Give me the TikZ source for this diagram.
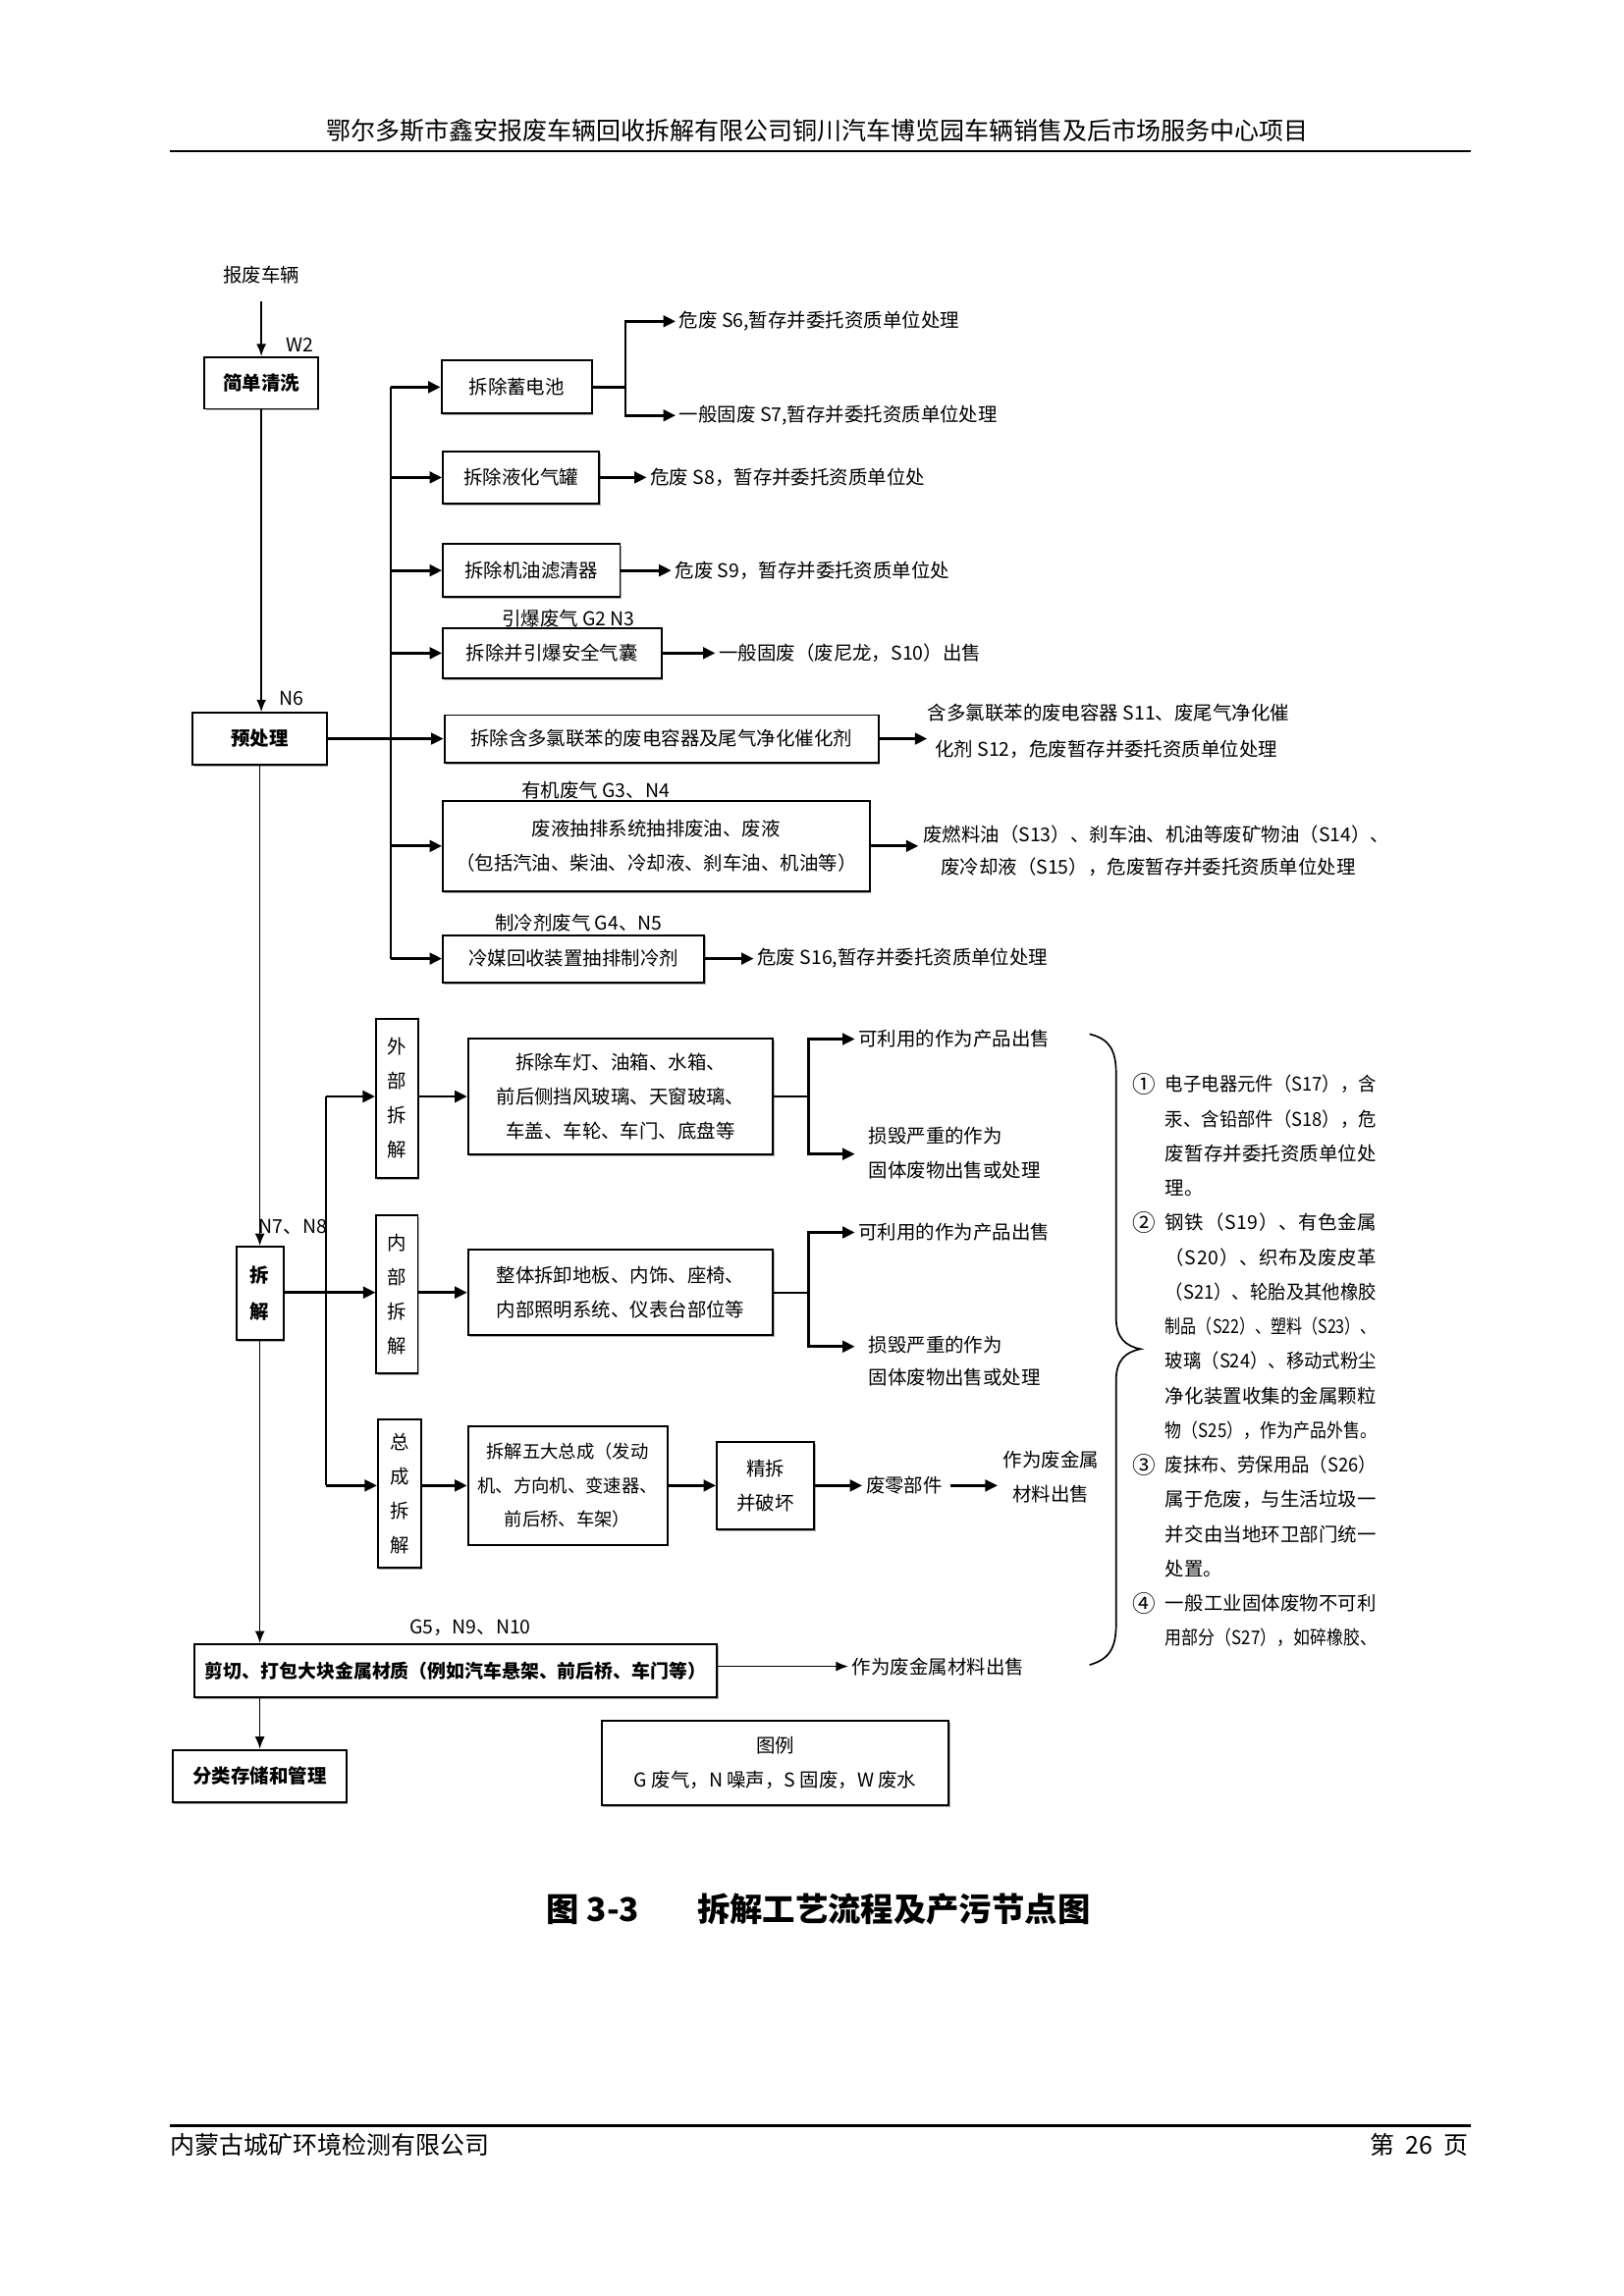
\documentclass[tikz,border=0pt]{standalone}
\usepackage{fontspec}
\setmainfont{Noto Sans CJK SC}
\usepackage{graphicx}
\usetikzlibrary{arrows.meta,shadows}
\newsavebox\jbox
\newlength\jw
\newlength\jtmp
\setlength\jw{77.4pt}
\def\spreadit#1{\ifx\relax#1\else#1\hfil\expandafter\spreadit\fi}
\newcommand\jline[1]{\sbox\jbox{#1}\setlength\jtmp{\wd\jbox}%
  \ifdim\jtmp>\jw\pgfmathsetmacro\jr{\jw/\jtmp}\scalebox{\jr}[1]{\usebox\jbox}%
  \else\hbox to\jw{\spreadit#1\relax\unskip}\fi}
\newcommand\fs{\fontsize{7pt}{12.6pt}\selectfont}
\newcommand\fsb{\fontsize{7pt}{12.6pt}\selectfont\bfseries}
\tikzset{
  bx/.style={draw, fill=white, line width=0.7pt, inner sep=0pt, align=center, font=\fs,
    drop shadow={shadow xshift=0.5pt, shadow yshift=-0.7pt, fill=black!45, opacity=0.7}},
  bbx/.style={bx, font=\fsb},
  wh/.style 2 args={minimum width=#1*0.5412pt, minimum height=#2*0.5412pt},
  lab/.style={inner sep=0pt, align=center, font=\fs},
  olab/.style={lab, anchor=west, inner xsep=1.2pt},
  llab/.style={lab, anchor=west},
  tarr/.style={line width=1pt, -{Triangle[length=4.5pt,width=4.2pt]}},
  arr/.style={line width=0.6pt, -{Latex[length=4.5pt,width=3.6pt]}},
  ln/.style={line width=0.8pt},
  rb/.style={inner sep=0pt, anchor=west, font=\fs},
  cn/.style={inner sep=0pt, font=\fontsize{8.5pt}{9pt}\selectfont},
}
\begin{document}
\begin{tikzpicture}[x=0.5412pt, y=-0.5412pt]
\useasboundingbox (0,0) rectangle (1100,1555.6);
\fill[white] (0,0) rectangle (1100,1555.6);

% header / footer
\node[inner sep=0pt, font=\fontsize{9pt}{10pt}\selectfont] (hd) at (553.5,88.6) {鄂尔多斯市鑫安报废车辆回收拆解有限公司铜川汽车博览园车辆销售及后市场服务中心项目};
\draw[line width=1pt] (115,102.4) -- (996,102.4);
\draw[line width=1pt] (115,1440) -- (996,1440);
\node[inner sep=0pt, anchor=west, font=\fontsize{9pt}{10pt}\selectfont] (ft1) at (114.8,1453) {内蒙古城矿环境检测有限公司};
\node[inner sep=0pt, anchor=east, font=\fontsize{9pt}{10pt}\selectfont] (ft2) at (995,1453) {第\ \ 26\ \ 页};
\node[inner sep=0pt, anchor=west, font=\fontsize{12pt}{14pt}\selectfont\bfseries] (cap1) at (370,1293.6) {图 3-3};
\node[inner sep=0pt, anchor=west, font=\fontsize{12pt}{14pt}\selectfont\bfseries] (cap2) at (472,1293.6) {拆解工艺流程及产污节点图};

% ---------- top part ----------
\node[lab] (src) at (177,186) {报废车辆};
\node[bbx, wh={77}{35}] (b1) at (177,259.5) {简单清洗};
\node[lab] (w2) at (203,234) {W2};
\draw[arr] ([yshift=-6.5pt]src.south) -- (b1.north);
\node[bbx, wh={91}{35}] (b2) at (176,500.5) {预处理};
\node[lab] (n6) at (197.5,473) {N6};
\draw[arr] (b1.south) -- (b1.south |- b2.north);

\node[bx, wh={102}{36}] (r1) at (350,262.3) {拆除蓄电池};
\node[bx, wh={106}{35}] (r2) at (353,323.5) {拆除液化气罐};
\node[bx, wh={120}{36}] (r3) at (360,386.5) {拆除机油滤清器};
\node[bx, wh={148}{34}] (r4) at (374,442.5) {拆除并引爆安全气囊};
\node[bx, wh={294}{32}] (r5) at (448,500.5) {拆除含多氯联苯的废电容器及尾气净化催化剂};
\node[bx, wh={289}{61}] (r6) at (444.5,573.2) {废液抽排系统抽排废油、废液\\（包括汽油、柴油、冷却液、刹车油、机油等）};
\node[bx, wh={177}{32}] (r7) at (388.5,649.5) {冷媒回收装置抽排制冷剂};

\node[lab] (g2) at (385,419) {引爆废气 G2 N3};
\node[lab] (g3) at (403.5,535.4) {有机废气 G3、N4};
\node[lab] (g4) at (392,625) {制冷剂废气 G4、N5};

\coordinate (spA) at (264.5,0);
\draw[ln] (spA |- r1.west) -- (spA |- r7.west);
\foreach \r in {r1,r2,r3,r4,r6,r7}{\draw[tarr] (spA |- \r.west) -- (\r.west);}
\draw[tarr, line width=0.8pt] (b2.east) -- (r5.west);

\node[olab] (o1a) at (457.6,217.7) {危废 S6,暂存并委托资质单位处理};
\node[olab] (o1b) at (457.6,281.5) {一般固废 S7,暂存并委托资质单位处理};
\coordinate (splA) at (423.6,0);
\draw[ln] (r1.east) -- (r1.east -| splA);
\draw[tarr] (r1.east -| splA) |- (o1a.west);
\draw[tarr] (r1.east -| splA) |- (o1b.west);

\node[olab] (o2) at (438,323.5) {危废 S8，暂存并委托资质单位处};
\draw[tarr] (r2.east) -- (o2.west);
\node[olab] (o3) at (454.7,386.5) {危废 S9，暂存并委托资质单位处};
\draw[tarr] (r3.east) -- (o3.west);
\node[olab] (o4) at (484.5,442.5) {一般固废（废尼龙，S10）出售};
\draw[tarr] (r4.east) -- (o4.west);

\node[llab] (o5a) at (628,483) {含多氯联苯的废电容器 S11、废尾气净化催};
\node[llab] (o5b) at (633,507.6) {化剂 S12，危废暂存并委托资质单位处理};
\coordinate (o5in) at (628,500.5);
\draw[tarr] (r5.east) -- (o5in);

\node[llab] (o6a) at (625,565.3) {废燃料油（S13）、刹车油、机油等废矿物油（S14）、};
\node[llab] (o6b) at (637,587.4) {废冷却液（S15），危废暂存并委托资质单位处理};
\coordinate (o6in) at (622,573.2);
\draw[tarr] (r6.east) -- (o6in);

\node[olab] (o7) at (510.5,649.5) {危废 S16,暂存并委托资质单位处理};
\draw[tarr] (r7.east) -- (o7.west);

% ---------- middle part ----------
\node[lab] (n78) at (198.5,831.4) {N7、N8};
\node[bbx, wh={32}{63}, font=\fontsize{7pt}{13.1pt}\selectfont\bfseries] (cj) at (176,876.2) {拆\\解};
\draw[arr] (b2.south) -- (b2.south |- cj.north);

\node[bx, wh={206.5}{78}] (wc) at (420.3,742.9) {拆除车灯、油箱、水箱、\\前后侧挡风玻璃、天窗玻璃、\\车盖、车轮、车门、底盘等};
\node[bx, wh={206.5}{57.7}] (nc) at (420.3,875.7) {整体拆卸地板、内饰、座椅、\\内部照明系统、仪表台部位等};
\node[bx, wh={135}{80}, font=\fontsize{6.6pt}{12.45pt}\selectfont] (zc) at (384.5,1006.5) {拆解五大总成（发动\\机、方向机、变速器、\\前后桥、车架）};
\node[bx, wh={66}{59}] (jc) at (518.5,1006.5) {精拆\\并破坏};

\node[bx, wh={28.6}{107.5}] (wb) at (269,744.2) {外\\部\\拆\\解};
\node[bx, wh={28}{107}] (nb) at (269,877) {内\\部\\拆\\解};
\node[bx, wh={29}{100.3}] (zb) at (270.5,1011.9) {总\\成\\拆\\解};

\coordinate (spB) at (221,0);
\draw[ln] (spB |- wc.west) -- (spB |- zc.west);
\draw[tarr] (spB |- wc.west) -- (wb.west |- wc.west);
\draw[tarr] (cj.east |- nc.west) -- (nb.west |- nc.west);
\draw[tarr] (spB |- zc.west) -- (zb.west |- zc.west);
\draw[tarr] (wb.east |- wc.west) -- (wc.west);
\draw[tarr] (nb.east |- nc.west) -- (nc.west);
\draw[tarr] (zb.east |- zc.west) -- (zc.west);

\coordinate (spC) at (547.6,0);
\node[olab] (wo1) at (579,704) {可利用的作为产品出售};
\node[llab] (wo2) at (588,769.3) {损毁严重的作为};
\node[llab] (wo3) at (588,792.6) {固体废物出售或处理};
\coordinate (wtip) at (579,781.9);
\draw[ln] (wc.east) -- (wc.east -| spC);
\draw[tarr] (wc.east -| spC) |- (wo1.west);
\draw[tarr] (wc.east -| spC) |- (wtip);

\node[olab] (no1) at (579,835) {可利用的作为产品出售};
\node[llab] (no2) at (588,911) {损毁严重的作为};
\node[llab] (no3) at (588,933.5) {固体废物出售或处理};
\coordinate (ntip) at (579,912.3);
\draw[ln] (nc.east) -- (nc.east -| spC);
\draw[tarr] (nc.east -| spC) |- (no1.west);
\draw[tarr] (nc.east -| spC) |- (ntip);

\draw[tarr] (zc.east) -- (jc.west);
\node[olab] (fl1) at (584,1006.5) {废零部件};
\draw[tarr] (jc.east) -- (fl1.west);
\node[lab] (fl2) at (711.8,1000.4) {作为废金属\\材料出售};
\coordinate (fst) at (644,1006.5);
\coordinate (ftip) at (675.7,1006.5);
\draw[tarr] (fst) -- (ftip);

% ---------- bottom part ----------
\node[llab] (g5) at (277,1103) {G5，N9、N10};
\node[bbx, wh={354}{36}, font=\fontsize{6.8pt}{8pt}\selectfont\bfseries] (jq) at (308.6,1132) {剪切、打包大块金属材质（例如汽车悬架、前后桥、车门等）};
\draw[arr] (cj.south) -- (cj.south |- jq.north);
\node[olab] (jqo) at (574.6,1129) {作为废金属材料出售};
\draw[arr] (jq.east |- jqo.west) -- (jqo.west);
\node[bbx, wh={117.8}{35.4}] (fl) at (175.9,1203.3) {分类存储和管理};
\draw[arr] (cj.south |- jq.south) -- (cj.south |- fl.north);
\node[bx, wh={235}{57.7}] (lg) at (525.2,1194.5) {图例\\G 废气，N 噪声，S 固废，W 废水};

% brace
\draw[line width=0.6pt] (738,700.6) .. controls (752,704) and (756,712) .. (756,728) -- (756,893)
  .. controls (756,906) and (762,912) .. (772.6,914) .. controls (762,916) and (756,922) .. (756,935)
  -- (756,1100) .. controls (756,1116) and (752,1124) .. (738,1128);

% right text block
\node[cn] (c1) at (774.8,734.7) {①};
\node[cn] (c2) at (774.8,828.4) {②};
\node[cn] (c3) at (774.8,992.4) {③};
\node[cn] (c4) at (774.8,1086.1) {④};
\node[rb] (t1) at (789,734.7) {\jline{电子电器元件（S17），含}};
\node[rb] (t2) at (789,758.1) {\jline{汞、含铅部件（S18），危}};
\node[rb] (t3) at (789,781.6) {\jline{废暂存并委托资质单位处}};
\node[rb] (t4) at (789,805.0) {理。};
\node[rb] (t5) at (789,828.4) {\jline{钢铁（S19）、有色金属}};
\node[rb] (t6) at (789,851.9) {\jline{（S20）、织布及废皮革}};
\node[rb] (t7) at (789,875.3) {\jline{（S21）、轮胎及其他橡胶}};
\node[rb] (t8) at (789,898.7) {\jline{制品（S22）、塑料（S23）、}};
\node[rb] (t9) at (789,922.1) {\jline{玻璃（S24）、移动式粉尘}};
\node[rb] (t10) at (789,945.6) {\jline{净化装置收集的金属颗粒}};
\node[rb] (t11) at (789,969.0) {\jline{物（S25），作为产品外售。}};
\node[rb] (t12) at (789,992.4) {\jline{废抹布、劳保用品（S26）}};
\node[rb] (t13) at (789,1015.9) {\jline{属于危废，与生活垃圾一}};
\node[rb] (t14) at (789,1039.3) {\jline{并交由当地环卫部门统一}};
\node[rb] (t15) at (789,1062.7) {处置。};
\node[rb] (t16) at (789,1086.1) {\jline{一般工业固体废物不可利}};
\node[rb] (t17) at (789,1109.6) {\jline{用部分（S27），如碎橡胶、}};
\end{tikzpicture}
\end{document}
